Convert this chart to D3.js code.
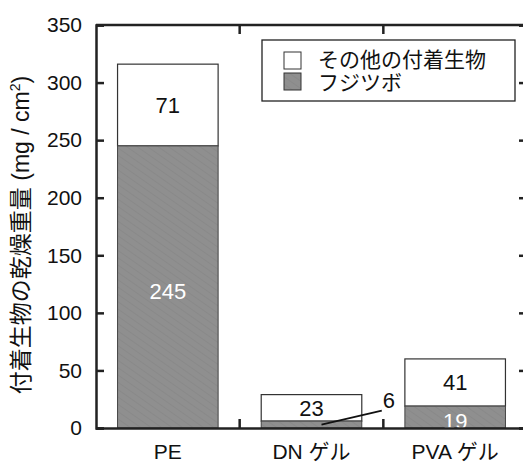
<!DOCTYPE html>
<html lang="ja">
<head>
  <meta charset="UTF-8">
  <title>付着生物の乾燥重量</title>
  <script src="https://cdn.jsdelivr.net/npm/d3@7/dist/d3.min.js"></script>
  <style>
    body { margin: 0; background: #fff; }
    text { font-family: "Liberation Sans", Arial, "Noto Sans CJK JP", sans-serif; }
  </style>
</head>
<body>
  <svg id="chart" width="523" height="464"></svg>
  <script>
    // data
    const categories = ['PE', 'DN ゲル', 'PVA ゲル'];
    const barnacle = [245, 6, 19];      // フジツボ
    const others = [71, 23, 41];        // その他の付着生物
    const yTicks = [0, 50, 100, 150, 200, 250, 300, 350];
    const legendLabels = ['その他の付着生物', 'フジツボ'];
    const yLabel = '付着生物の乾燥重量';

    const width = 523, height = 464;
    const pl = 96, pr = 527, pt = 25, pb = 428;
    const grey = '#8f8f8f';

    const svg = d3.select('#chart');

    // hatch texture for the grey part
    const pat = svg.append('defs').append('pattern')
      .attr('id', 'hatch').attr('width', 6).attr('height', 6)
      .attr('patternUnits', 'userSpaceOnUse')
      .attr('patternTransform', 'rotate(-55)');
    pat.append('rect').attr('width', 6).attr('height', 6).attr('fill', grey);
    pat.append('line').attr('x1', 0).attr('y1', 0).attr('x2', 0).attr('y2', 6)
      .attr('stroke', '#7e7e7e').attr('stroke-width', 0.7);

    const x = d3.scaleBand().domain(categories).range([pl, pr]).paddingInner(0.3).paddingOuter(0.15);
    const y = d3.scaleLinear().domain([0, 350]).range([pb, pt]);

    // bars
    const g = svg.append('g');
    categories.forEach((c, i) => {
      g.append('rect')
        .attr('x', x(c)).attr('width', x.bandwidth())
        .attr('y', y(barnacle[i] + others[i]))
        .attr('height', y(barnacle[i]) - y(barnacle[i] + others[i]))
        .attr('fill', '#fff').attr('stroke', '#333').attr('stroke-width', 1.2);
      g.append('rect')
        .attr('x', x(c)).attr('width', x.bandwidth())
        .attr('y', y(barnacle[i]))
        .attr('height', y(0) - y(barnacle[i]))
        .attr('fill', 'url(#hatch)').attr('stroke', '#444').attr('stroke-width', 1);
    });

    // value labels
    categories.forEach((c, i) => {
      const cx = x(c) + x.bandwidth() / 2;
      g.append('text')
        .attr('x', cx).attr('y', (y(barnacle[i]) + y(barnacle[i] + others[i])) / 2)
        .attr('dy', '0.36em').attr('text-anchor', 'middle')
        .attr('font-size', 22).attr('fill', '#111')
        .text(others[i]);
      if (barnacle[i] > 10) {
        g.append('text')
          .attr('x', cx).attr('y', (y(0) + y(barnacle[i])) / 2 + 4)
          .attr('dy', '0.36em').attr('text-anchor', 'middle')
          .attr('font-size', 22).attr('fill', '#fff')
          .text(barnacle[i]);
      } else {
        // small value: leader line to label at the right
        const sx = cx + 10, sy = (y(0) + y(barnacle[i])) / 2;
        const ex = x(c) + x.bandwidth() + 20, ey = sy - 14;
        g.append('line').attr('x1', sx).attr('y1', sy).attr('x2', ex).attr('y2', ey)
          .attr('stroke', '#111').attr('stroke-width', 1.8);
        g.append('text').attr('x', ex + 1).attr('y', ey - 3)
          .attr('font-size', 22).attr('fill', '#111')
          .text(barnacle[i]);
      }
    });

    // axes (ticks pointing inward)
    const frame = '#222';
    const yAxis = d3.axisLeft(y).tickValues(yTicks).tickSize(-8).tickPadding(14);
    const ya = svg.append('g').attr('transform', `translate(${pl},0)`).call(yAxis);
    ya.selectAll('text').attr('font-size', 21).attr('fill', '#111');

    svg.append('g').attr('transform', `translate(${pr},0)`)
      .call(d3.axisRight(y).tickValues(yTicks).tickSize(-8).tickFormat(''));

    const sep = categories.slice(1).map(c => x(c) - x.step() * x.paddingInner() / 2);
    const xb = svg.append('g').attr('transform', `translate(0,${pb})`)
      .call(d3.axisBottom(x).tickSize(0).tickPadding(16));
    xb.selectAll('text').attr('font-size', 21).attr('fill', '#111');
    svg.append('g').attr('class', 'sep').attr('transform', `translate(0,${pb})`)
      .selectAll('line').data(sep).join('line')
      .attr('x1', d => d).attr('x2', d => d).attr('y1', 0).attr('y2', -9);
    svg.append('g').attr('class', 'sep').attr('transform', `translate(0,${pt})`)
      .selectAll('line').data(sep).join('line')
      .attr('x1', d => d).attr('x2', d => d).attr('y1', 0).attr('y2', 9);
    svg.append('line').attr('class', 'sep').attr('x1', pl).attr('x2', pr).attr('y1', pt).attr('y2', pt);

    svg.selectAll('.domain, .tick line, .sep line, line.sep')
      .attr('stroke', frame).attr('stroke-width', 2.5);
    svg.selectAll('.domain').attr('fill', 'none');

    // y label
    const yl = svg.append('text')
      .attr('transform', 'translate(29,235) rotate(-90)')
      .attr('text-anchor', 'middle').attr('font-size', 23).attr('fill', '#111');
    yl.append('tspan').text(yLabel + ' (mg / cm');
    yl.append('tspan').attr('font-size', 14).attr('dy', -9).text('2');
    yl.append('tspan').attr('dy', 9).text(')');

    // legend
    const lg = svg.append('g').attr('transform', 'translate(262,40)');
    lg.append('rect').attr('width', 253).attr('height', 61)
      .attr('fill', '#fff').attr('stroke', '#222').attr('stroke-width', 1.3);
    legendLabels.forEach((t, i) => {
      lg.append('rect').attr('x', 22).attr('y', 12 + i * 21).attr('width', 17).attr('height', 17)
        .attr('fill', i === 0 ? '#fff' : 'url(#hatch)').attr('stroke', '#333').attr('stroke-width', 1);
      lg.append('text').attr('x', 56).attr('y', 19 + i * 23).attr('dy', '0.36em')
        .attr('font-size', 21).attr('fill', '#111').text(t);
    });
  </script>
</body>
</html>
